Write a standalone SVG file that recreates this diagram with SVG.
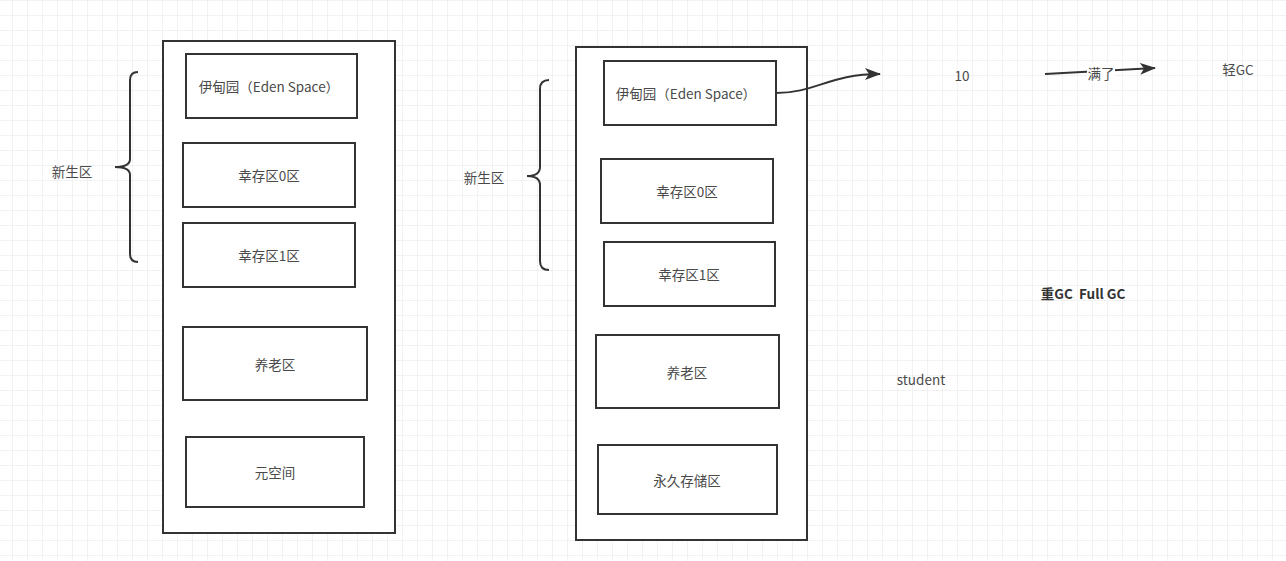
<svg xmlns="http://www.w3.org/2000/svg" width="1286" height="561" viewBox="0 0 1286 561">
<defs>
<pattern id="grid" x="12" y="0" width="15" height="15" patternUnits="userSpaceOnUse">
<path d="M0,0 V15 M0,0 H15" fill="none" stroke="#e6e6e6" stroke-width="1"/>
</pattern>
<marker id="arr" viewBox="0 0 16 12" refX="15" refY="6" markerWidth="16" markerHeight="12" markerUnits="userSpaceOnUse" orient="auto">
<path d="M0,0 L16,6 L0,12 L4,6 z" fill="#333"/>
</marker>
<style>
.box{fill:#fff;stroke:#333;stroke-width:2}
.t{font-family:"Noto Sans CJK SC","Noto Sans",sans-serif;font-size:13.5px;fill:#4a4a4a;text-anchor:middle;dominant-baseline:central;white-space:pre}
.b{font-weight:bold;fill:#333}
.brace{fill:none;stroke:#333;stroke-width:2}
.conn{fill:none;stroke:#333;stroke-width:2}
</style>
</defs>
<rect width="1286" height="561" fill="#fff"/>
<rect width="1286" height="561" fill="url(#grid)"/>

<g id="left-heap">
<rect class="box" x="163" y="41" width="232" height="492"/>
</g>
<g id="left-eden"><rect class="box" x="186" y="54" width="171" height="64"/><text class="t" x="269" y="86">伊甸园（Eden Space）</text></g>
<g id="left-s0"><rect class="box" x="183" y="143" width="172" height="64"/><text class="t" x="269" y="175">幸存区0区</text></g>
<g id="left-s1"><rect class="box" x="183" y="223" width="172" height="64"/><text class="t" x="269" y="255">幸存区1区</text></g>
<g id="left-old"><rect class="box" x="183" y="327" width="184" height="73"/><text class="t" x="275" y="364">养老区</text></g>
<g id="left-meta"><rect class="box" x="186" y="437" width="178" height="70"/><text class="t" x="275" y="472">元空间</text></g>
<g id="left-young">
<path class="brace" d="M138,72 Q130,72 130,80 V159 Q130,167 115,167 Q130,167 130,175 V254 Q130,262 138,262"/>
<text class="t" x="72" y="171">新生区</text>
</g>

<g id="right-heap">
<rect class="box" x="576" y="47" width="231" height="493"/>
</g>
<g id="right-eden"><rect class="box" x="604" y="61" width="172" height="64"/><text class="t" x="686" y="93">伊甸园（Eden Space）</text></g>
<g id="right-s0"><rect class="box" x="601" y="159" width="172" height="64"/><text class="t" x="687" y="191">幸存区0区</text></g>
<g id="right-s1"><rect class="box" x="604" y="242" width="171" height="64"/><text class="t" x="689" y="274">幸存区1区</text></g>
<g id="right-old"><rect class="box" x="596" y="335" width="183" height="73"/><text class="t" x="687" y="372">养老区</text></g>
<g id="right-perm"><rect class="box" x="598" y="445" width="179" height="69"/><text class="t" x="687" y="480">永久存储区</text></g>
<g id="right-young">
<path class="brace" d="M549,80 Q540,80 540,89 V167 Q540,176 527,176 Q540,176 540,185 V261 Q540,270 549,270"/>
<text class="t" x="484" y="177">新生区</text>
</g>

<g id="label-10"><text class="t" x="962" y="75">10</text></g>
<g id="label-light"><text class="t" x="1238" y="69">轻GC</text></g>
<g id="label-full"><text class="t b" x="1083" y="293" xml:space="preserve">重GC  Full GC</text></g>
<g id="label-student"><text class="t" x="921" y="379">student</text></g>

<g id="connectors">
<path class="conn" d="M776,93 C815,93 830,74 880,74" marker-end="url(#arr)"/>
<path class="conn" d="M1045,74 L1155,68" marker-end="url(#arr)"/>
<rect x="1087" y="63" width="28" height="20" fill="#fff"/>
<text class="t" x="1101" y="73">满了</text>
</g>
</svg>
